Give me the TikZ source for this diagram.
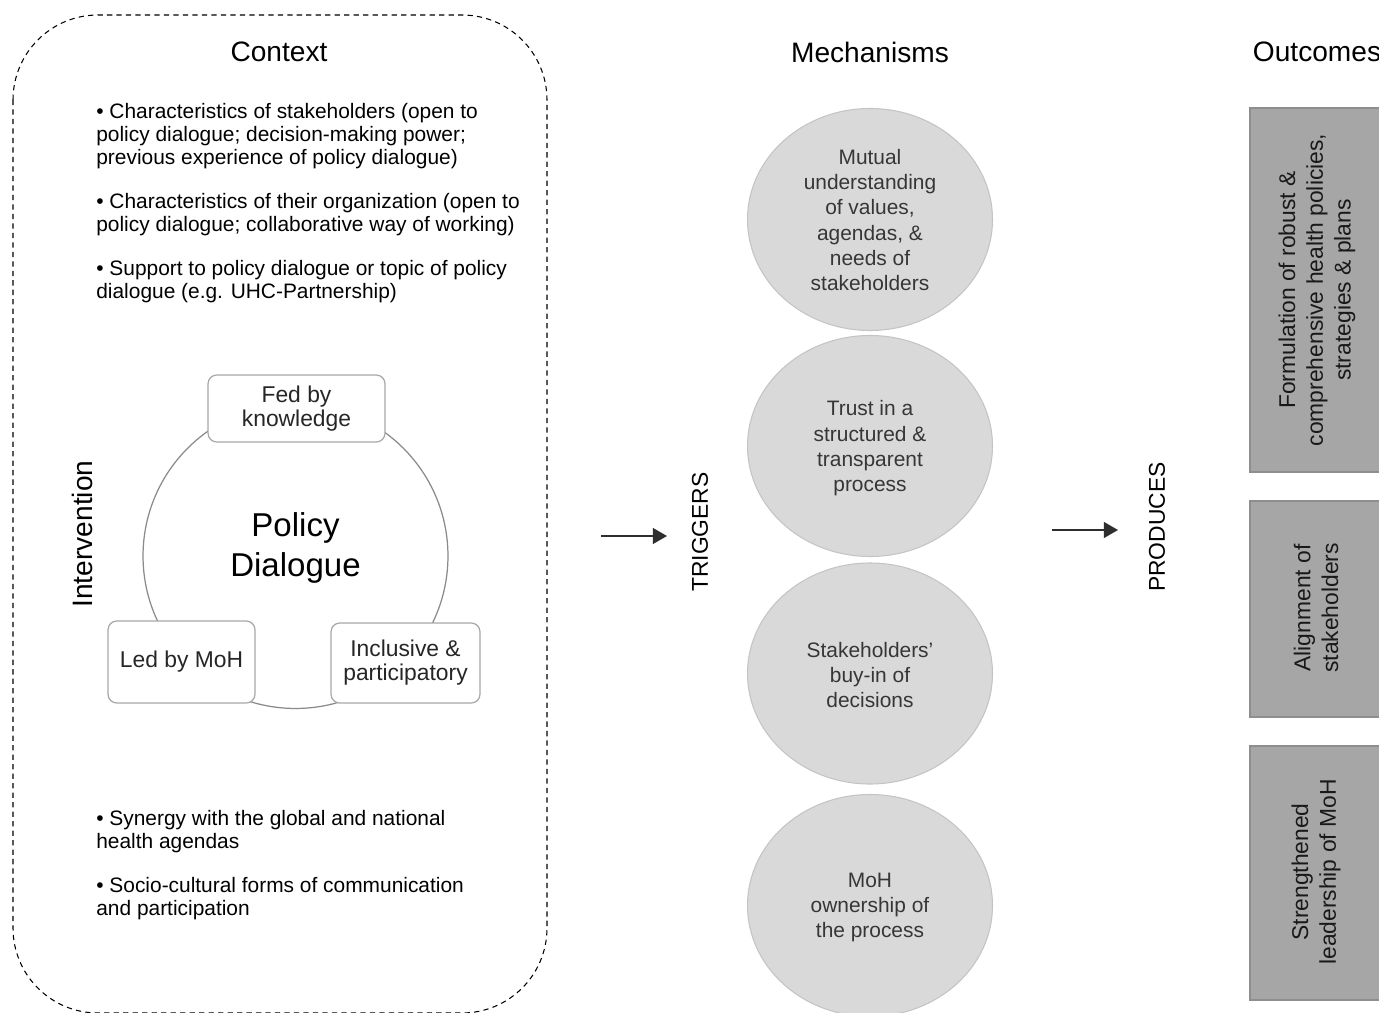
\documentclass[tikz,border=0pt]{standalone}
\usepackage{fontspec}
\setmainfont{Liberation Sans}
\usetikzlibrary{arrows.meta}
\definecolor{mechfill}{HTML}{D9D9D9}
\definecolor{mechline}{HTML}{C4C4C4}
\definecolor{outfill}{HTML}{A6A6A6}
\definecolor{outline}{HTML}{8E8E8E}
\definecolor{boxline}{HTML}{A8A8A8}
\definecolor{circline}{HTML}{8A8A8A}
\definecolor{mechtext}{HTML}{363636}
\definecolor{arrowc}{HTML}{2E2E2E}
\tikzset{
  header/.style={font=\fontsize{16}{19}\selectfont},
  bullet/.style={anchor=west, align=left, inner sep=0pt, font=\fontsize{11.9}{13}\selectfont},
  mech/.style={draw=mechline, fill=mechfill, line width=0.6pt},
  mechtxt/.style={align=center, text=mechtext, font=\fontsize{11.9}{14.4}\selectfont},
  featbox/.style={draw=boxline, fill=white, rounded corners=5pt, line width=0.7pt, align=center, text=black!85, font=\fontsize{13}{13.6}\selectfont},
  outbox/.style={draw=outline, fill=outfill, line width=0.7pt},
  outtxt/.style={rotate=90, align=center, text=black!90, font=\fontsize{13}{15.8}\selectfont},
  sidelabel/.style={rotate=90, font=\fontsize{13}{15}\selectfont},
  flow/.style={draw=arrowc, line width=0.8pt, -{Triangle[length=8pt,width=9pt]}}
}
\begin{document}
\begin{tikzpicture}[x=0.02cm, y=-0.02cm]
\clip (0,0) rectangle (1379,1013);
\fill[white] (0,0) rectangle (1379,1013);

% Context dashed frame
\draw[dash pattern=on 3pt off 2.4pt, line width=0.6pt, rounded corners=1.7cm] (13,15) rectangle (547,1013);

% headers
\node[header] (hctx) at (279,52) {Context};
\node[header] (hmech) at (870,52) {Mechanisms};
\node[header] (hout) at (1317,52) {Outcomes};

% context bullets
\node[bullet] (b1) at (96,136) {• Characteristics of stakeholders (open to\\policy dialogue; decision-making power;\\previous experience of policy dialogue)};
\node[bullet] (b2) at (96,214.5) {• Characteristics of their organization (open to\\policy dialogue; collaborative way of working)};
\node[bullet] (b3) at (96,281.5) {• Support to policy dialogue or topic of policy\\dialogue (e.g. UHC-Partnership)};
\node[bullet] (b4) at (96,831.5) {• Synergy with the global and national\\health agendas};
\node[bullet] (b5) at (96,898.5) {• Socio-cultural forms of communication\\and participation};

% intervention
\node[rotate=90, font=\fontsize{16}{19}\selectfont] (interv) at (82,534) {Intervention};
\node[draw=circline, line width=0.7pt, circle, minimum size=6.1cm, inner sep=0pt] (pdc) at (295.5,556) {};
\node[align=center, font=\fontsize{18.8}{22.7}\selectfont] (pd) at (295.5,548) {Policy\\Dialogue};
\node[featbox, minimum width=3.54cm, minimum height=1.34cm] (fed) at (296.5,408.5) {Fed by\\knowledge};
\node[featbox, minimum width=2.94cm, minimum height=1.64cm] (led) at (181.5,662) {Led by MoH};
\node[featbox, minimum width=2.98cm, minimum height=1.6cm] (incl) at (405.5,663) {Inclusive \&\\participatory};

% triggers
\coordinate (ta) at (601,536);
\coordinate (tb) at (667,536);
\draw[flow] (ta) -- (tb);
\node[sidelabel] (trig) at (700,532) {TRIGGERS};

% mechanisms
\draw[mech] (870,219.5) ellipse [x radius=122.5, y radius=111];
\draw[mech] (870,446) ellipse [x radius=122.5, y radius=110.5];
\draw[mech] (870,673.5) ellipse [x radius=122.5, y radius=110.5];
\draw[mech] (870,905.5) ellipse [x radius=122.5, y radius=111];
\node[mechtxt] (m1) at (870,220) {Mutual\\understanding\\of values,\\agendas, \&\\needs of\\stakeholders};
\node[mechtxt] (m2) at (870,448.5) {Trust in a\\structured \&\\transparent\\process};
\node[mechtxt] (m3) at (870,675) {Stakeholders’\\buy-in of\\decisions};
\node[mechtxt] (m4) at (870,907.5) {MoH\\ownership of\\the process};

% produces
\coordinate (pa) at (1052,530);
\coordinate (pb) at (1118,530);
\draw[flow] (pa) -- (pb);
\node[sidelabel] (prod) at (1157,527) {PRODUCES};

% outcomes
\draw[outbox] (1250,108) rectangle (1390,472);
\draw[outbox] (1250,501) rectangle (1390,717);
\draw[outbox] (1250,746) rectangle (1390,1000);
\node[outtxt] (o1) at (1317,290) {Formulation of robust \&\\comprehensive health policies,\\strategies \& plans};
\node[outtxt] (o2) at (1316,608) {Alignment of\\stakeholders};
\node[outtxt] (o3) at (1316,872) {Strengthened\\leadership of MoH};
\end{tikzpicture}
\end{document}
